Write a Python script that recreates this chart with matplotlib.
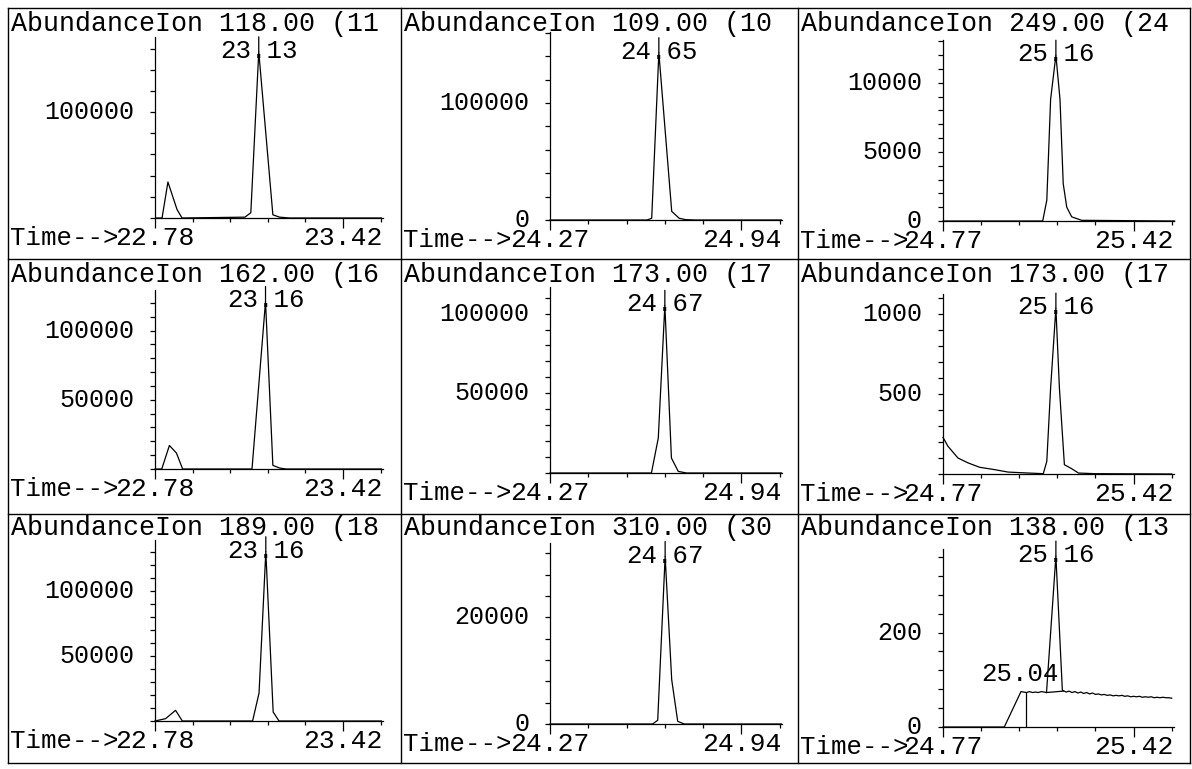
""" Nine extracted-ion chromatograms (scanned GC/MS report page) """

import matplotlib
matplotlib.use("Agg")
import matplotlib.pyplot as plt
from matplotlib.lines import Line2D
import numpy as np

plt.rcParams["font.family"] = ["Liberation Mono", "DejaVu Sans Mono"]

# ---- data ----
titles = ["AbundanceIon 118.00 (11", "AbundanceIon 109.00 (10", "AbundanceIon 249.00 (24",
          "AbundanceIon 162.00 (16", "AbundanceIon 173.00 (17", "AbundanceIon 173.00 (17",
          "AbundanceIon 189.00 (18", "AbundanceIon 310.00 (30", "AbundanceIon 138.00 (13"]
t_start = [22.78, 24.27, 24.77, 22.78, 24.27, 24.77, 22.78, 24.27, 24.77]
t_end = [23.42, 24.94, 25.42, 23.42, 24.94, 25.42, 23.42, 24.94, 25.42]
y_top = [171000, 160700, 13100, 129300, 116700, 1125, 139000, 33940, 377]
y_step = [20000, 20000, 1000, 10000, 10000, 100, 10000, 4000, 40]
y_labeled = [[100000], [0, 100000], [0, 5000, 10000],
             [50000, 100000], [50000, 100000], [500, 1000],
             [50000, 100000], [0, 20000], [0, 200]]
rt_labels = ["23.13", "24.65", "25.16", "23.16", "24.67", "25.16", "23.16", "24.67", "25.16"]

t_ion118 = [22.783, 22.804, 22.824, 22.855, 22.872, 23.086, 23.106, 23.133, 23.181, 23.204, 23.238, 23.55]
a_ion118 = [0, 0, 34000, 8000, 0, 800, 5000, 157000, 3000, 800, 0, 0]

t_ion109 = [24.27, 24.610, 24.626, 24.651, 24.696, 24.722, 24.745, 24.78, 25.08]
a_ion109 = [0, 0, 1500, 143000, 7400, 1500, 300, 0, 0]

t_ion249 = [24.77, 25.110, 25.124, 25.137, 25.155, 25.169, 25.180, 25.192, 25.209, 25.243, 25.56]
a_ion249 = [0, 0, 1500, 8800, 12000, 8800, 2700, 1000, 300, 50, 0]

t_ion162 = [22.78, 22.803, 22.829, 22.853, 22.874, 23.110, 23.156, 23.181, 23.204, 23.226, 23.55]
a_ion162 = [0, 0, 17000, 11500, 0, 0, 121000, 2600, 700, 0, 0]

t_ion173a = [24.27, 24.625, 24.649, 24.672, 24.695, 24.719, 24.748, 25.08]
a_ion173a = [0, 0, 21900, 105200, 9400, 1000, 0, 0]

t_ion173b = [24.770, 24.787, 24.821, 24.856, 24.895, 24.947, 24.992, 25.061, 25.112,
             25.124, 25.137, 25.155, 25.167, 25.184, 25.209, 25.232, 25.289, 25.55]
a_ion173b = [229, 173, 100, 69, 42, 27, 12, 6, 2, 79, 537, 1037, 537, 58, 33, 6, 2, 0]

t_ion189 = [22.78, 22.816, 22.850, 22.873, 23.112, 23.134, 23.157, 23.182, 23.202, 23.55]
a_ion189 = [0, 1800, 8200, 0, 0, 21500, 130000, 6900, 0, 0]

t_ion310 = [24.27, 24.629, 24.647, 24.673, 24.696, 24.717, 24.740, 25.08]
a_ion310 = [0, 0, 700, 31400, 8300, 500, 0, 0]

t_ion138 = [24.77, 24.979, 25.036, 25.045, 25.055, 25.065, 25.075, 25.085, 25.095, 25.105,
            25.115, 25.123, 25.155, 25.177, 25.19, 25.20, 25.21, 25.22, 25.23, 25.24,
            25.25, 25.26, 25.27, 25.28, 25.29, 25.30, 25.31, 25.32, 25.33, 25.34,
            25.35, 25.36, 25.37, 25.38, 25.39, 25.40, 25.41, 25.42, 25.43, 25.44,
            25.45, 25.46, 25.47, 25.48, 25.49, 25.50, 25.51, 25.52, 25.53, 25.54, 25.55]
a_ion138 = [0, 0, 75, 74, 73, 75, 73, 74, 73, 75,
            74, 73, 362, 78, 74, 76, 73, 75, 72, 74,
            71, 73, 70, 72, 69, 70, 68, 69, 67, 68,
            66, 67, 66, 67, 65, 66, 64, 65, 64, 65,
            63, 64, 63, 64, 62, 63, 62, 63, 62, 62, 61]

series_t = [t_ion118, t_ion109, t_ion249, t_ion162, t_ion173a, t_ion173b, t_ion189, t_ion310, t_ion138]
series_a = [a_ion118, a_ion109, a_ion249, a_ion162, a_ion173a, a_ion173b, a_ion189, a_ion310, a_ion138]

# extra integration marks in the last panel
rt_extra = "25.04"
rt_extra_t, rt_extra_a = 25.032, 75
drop_t, drop_a = 25.053, 73
base_t = [25.123, 25.18]
base_a = [73, 76]

# ---- layout (pixels) ----
W, H = 1192, 769
PT = 0.72  # points per pixel at dpi 100
col_edges = [8, 401, 798, 1190]
row_edges = [8, 259, 514, 763]
title_gap = [3, 3, 1]
ax_left = [155, 550, 943]
ax_right = [383, 782, 1174]
ax_top = [37, 32, 40, 290, 287, 294, 540, 543, 549]
ax_base = [218, 220, 221, 469, 473, 474, 721, 724, 727]

fig = plt.figure(figsize=(W / 100, H / 100), dpi=100)
fig.patch.set_facecolor("white")

for x in col_edges:
    fig.add_artist(Line2D([x / W, x / W], [1 - row_edges[0] / H, 1 - row_edges[-1] / H],
                          transform=fig.transFigure, color="k", lw=1.0))
for y in row_edges:
    fig.add_artist(Line2D([col_edges[0] / W, col_edges[-1] / W], [1 - y / H, 1 - y / H],
                          transform=fig.transFigure, color="k", lw=1.0))

for i in range(9):
    c, r = i % 3, i // 3
    l, rr, t, b = ax_left[c], ax_right[c], ax_top[i], ax_base[i]
    ax = fig.add_axes([l / W, 1 - b / H, (rr - l) / W, (b - t) / H])
    ax.patch.set_alpha(0)
    step = (t_end[i] - t_start[i]) / 5
    ax.set_xlim(t_start[i], t_start[i] + 6.06 * step)
    ax.set_ylim(0, y_top[i])
    for s in ["top", "right"]:
        ax.spines[s].set_visible(False)
    for s in ["left", "bottom"]:
        ax.spines[s].set_linewidth(0.9)

    xt = t_start[i] + step * np.arange(7)
    ax.set_xticks([xt[0], xt[5]])
    ax.set_xticks([xt[k] for k in (1, 2, 3, 4, 6)], minor=True)
    ax.set_xticklabels([])
    ax.tick_params(axis="x", which="major", direction="out", length=10 * PT, width=0.9)
    ax.tick_params(axis="x", which="minor", direction="out", length=4 * PT, width=0.9)
    yt = np.arange(0, y_top[i], y_step[i])
    ax.set_yticks(yt)
    ax.set_yticklabels([])
    ax.tick_params(axis="y", direction="out", length=5 * PT, width=0.9)

    for v in y_labeled[i]:
        ax.annotate(f"{v}", xy=(0, v), xycoords=("axes fraction", "data"),
                    xytext=(-21 * PT, 0), textcoords="offset points",
                    ha="right", va="center", fontsize=18)
    for k, lab in ((0, t_start[i]), (5, t_end[i])):
        ax.annotate(f"{lab:.2f}", xy=(xt[k], 0), xycoords=("data", "axes fraction"),
                    xytext=(0, -20 * PT), textcoords="offset points",
                    ha="center", va="center", fontsize=19)
    fig.text((col_edges[c] + 2) / W, 1 - (b + 20) / H, "Time-->",
             ha="left", va="center", fontsize=18.5)
    fig.text((col_edges[c] + 3) / W, 1 - (row_edges[r] + title_gap[r]) / H, titles[i],
             ha="left", va="top", fontsize=19.2)

    ts, ys = series_t[i], series_a[i]
    ax.plot(ts, ys, color="k", lw=0.9, clip_on=False)
    k = int(np.argmax(ys))
    ax.annotate("", xy=(ts[k], ys[k]), xytext=(0, 15 * PT), textcoords="offset points",
                arrowprops=dict(arrowstyle="-", lw=0.9, color="k", shrinkA=0, shrinkB=0))
    ax.annotate(rt_labels[i], xy=(ts[k], ys[k]), xytext=(0, 1 * PT),
                textcoords="offset points", ha="center", va="center", fontsize=18.5)

    if i == 8:
        ax.plot([drop_t, drop_t], [0, drop_a], color="k", lw=0.9)
        ax.plot(base_t, base_a, color="k", lw=0.9)
        ax.annotate(rt_extra, xy=(rt_extra_t, rt_extra_a), xytext=(0, 18 * PT),
                    textcoords="offset points", ha="center", va="center", fontsize=18.5)

fig.savefig("out.png", dpi=100, facecolor="white")
